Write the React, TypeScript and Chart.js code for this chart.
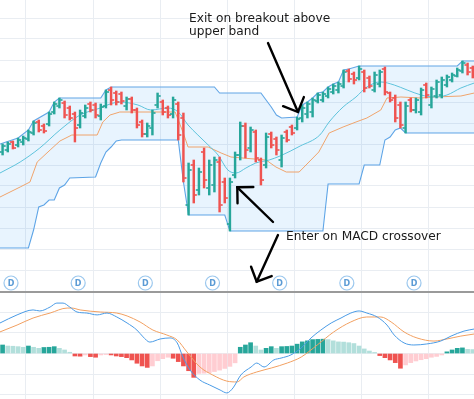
import React, { useEffect, useRef } from 'react';
import { Chart, registerables } from 'chart.js';
Chart.register(...registerables);

// ---------- price panel data (bar index on x) ----------
const openP = [69.5,70.5,74.5,73,74.5,76,79,84.5,82.5,83.5,89.5,92.5,94,91.5,88.5,83,87.5,93.5,93,87.5,92.5,100.5,99,98.5,92.5,96,90.5,84.5,78.5,81.5,93,94.5,91.5,88.5,93.5,86.5,43,63,50.5,69.5,51.5,53,64.5,54.5,33.5,58,68,82.5,71.5,79.5,65.5,63,78.5,76,65.5,79.5,82,81.5,86.5,88.5,89.5,95,95.5,97.5,99.5,100.5,102.5,110,108.5,106.5,109.5,106.5,100.5,103.5,111,99,96.5,93,81.5,95.5,90.5,89.5,103,93,97.5,98,103,105.5,107.5,110,113,111.5];
const highP = [73.5,74.5,75,76.5,77.5,80.5,85,85.5,83.5,89.5,94.5,96.5,95,92.5,89.5,90.5,93,94.5,94,93.5,100.5,102,100,99.5,97,97,91.5,85.5,84,90.5,99,95.5,92.5,97,94.5,89,64,65.5,61.5,71.5,65.5,67,67,56.5,56.5,69.5,84.5,84,82,80.5,66.5,79,79.5,77,78,80.5,83,87,93,94.5,96.5,99,99.5,102,103.5,104.5,110.5,111,109.5,112.5,110.5,107.5,109.5,110.5,112,99.5,98,94.5,94.5,96.5,96.5,101.5,104,102,105.5,107,108,109,111.5,115,114,112.5];
const lowP = [68,69.5,71,72,73,75,78,79.5,79,82.5,88.5,91.5,86.5,85.5,74.5,81.5,86.5,89.5,86.5,85.5,91.5,93,93,93.5,90.5,89,81.5,77,77,78,91.5,88,86.5,86.5,75.5,54.5,38,44,48,51.5,48,49.5,39.5,44,30,56.5,65.5,66.5,69.5,64.5,53,61.5,71.5,68,62,74.5,78,80.5,84.5,86.5,87,94,94.5,96.5,98.5,99,101.5,104.5,103.5,105.5,99.5,101.5,99.5,102,98,94.5,84.5,81.5,79,89.5,89,88,96.5,91.5,96.5,96.5,102,104.5,107,109,108,106.5];
const closeP = [72.5,73.5,71.5,75.5,76.5,79.5,84,80.5,80,88.5,93.5,95.5,88,86.5,81.5,89,91.5,90.5,88,92,99.5,95.5,94.5,95,96,90.5,83,78.5,82.5,89,97.5,89.5,88,95.5,78,56.5,60.5,48,59.5,55.5,63,65.5,43,46.5,54.5,68,82.5,70.5,80.5,66.5,55.5,77,73,70.5,76.5,75.5,79,86,91.5,93.5,95.5,98,98.5,101,102.5,103.5,109.5,106,105.5,111,101.5,102.5,108,109.5,99.5,95.5,86.5,83,92.5,90.5,95.5,100.5,98,101,104.5,105.5,107,108,110.5,114,109.5,108];

// Donchian channel (bar index, price)
const upperX = [-0.5,3,5,6,9,10,11,19,20,21,41,42,50,51,52,53,54,57,58,59,60,61,62,63,64,65,66,67,69,88,89,91.3];
const upperY = [73.5,76.5,80.5,85,89.5,94.5,96.5,96.5,100.5,102,102,99,99,95.5,92,88,86.5,87,93,94.5,96.5,99,99.5,102,103.5,104.5,110.5,111,112.5,112.5,115,115];
const lowerX = [-0.5,5,6,7,8,9,10,11,12,13,18,19,20,21,22,23,34,35,36,43,44,62,63,69,70,73,74,75,76,77,78,91.3];
const lowerY = [21.5,21.5,30.5,42,43,45.5,45.5,51.5,53,56.5,57,64,69.5,72,75,75.5,75.5,54.5,38,38,30,30,53.5,53.5,63,63,75.5,77,80.5,81.5,79,79];

// moving averages
const fastX = [-0.5,3.4,7.2,11.1,15,18.9,20.8,22.7,26.2,28.7,32,34,35.9,37.8,39.8,41.7,43.6,45.2,47.1,49,51.6,53.7,57.6,61.4,63.2,65.9,68.4,70.5,73.2,75.8,78.3,81,83.5,86,88.7,91.3];
const fastY = [59,64.5,71.5,80.5,88,91.5,93.5,94.5,93,90.5,91.5,89.5,83,78,73,68,60.5,59,61.5,64,65.5,67.5,72.5,78,84.5,92,97,102,104.5,103,100.5,98,97,98,101.5,104];
const midX = [-0.5,3.4,5.3,6.7,9.2,11.1,13.4,18.3,19.4,20.8,22.7,33.4,34.9,35.9,39.8,42.3,44.2,51,52.9,54.9,57.4,59.3,61.2,63.2,65.9,68.4,70.5,73.2,74.4,77.1,81,83.5,88.7,91.3];
const midY = [47,52,54.5,64.5,70.5,75,78,78,84.5,88,89.5,89.5,79.5,72,72,69,67,65.5,62,59.5,59.5,64.5,69.5,79,82,84.5,86.5,90.5,96.5,97,96.5,97,97.5,99];

// dividend markers
const dividendX = [1.63,14.63,27.63,40.63,53.63,66.63,79.63];
const dividendLevel = 4;

// ---------- MACD panel data ----------
const macdX = [-0.5,2.8,5.9,7.2,9.2,10.5,11.7,13.0,14.4,16.3,18.3,20.2,22.1,24.1,26,27.2,28.5,30.5,32.4,33.8,34.9,36.3,38.2,40.1,42.1,43.4,44.6,46.1,48.1,49.2,50.6,52.5,53.9,55.8,57.8,59.7,61.6,63.6,65.5,67.4,69,70.5,72.5,74.4,75.8,77.7,79.6,82.1,84.8,86.8,89.3,91.3];
const macdY = [1.47,1.86,2.10,2.05,2.24,2.43,2.43,2.24,2.0,1.95,1.86,1.95,1.76,1.47,1.13,0.80,0.55,0.70,0.75,0.51,-0.17,-0.80,-1.28,-1.52,-1.76,-1.90,-1.66,-1.04,-0.65,-0.46,-0.65,-0.31,-0.22,-0.07,0.27,0.75,1.13,1.47,1.71,1.95,2.05,1.95,1.76,1.37,0.89,0.51,0.41,0.46,0.60,0.84,1.08,1.18];
const signalX = [-0.5,2.8,5.9,9.2,12.5,13.4,15,18.9,22.1,24.1,26.6,29.1,31.8,33.8,35.7,38.2,40.7,43.4,45.4,46.7,49.2,52,55.1,57.8,60.9,64.1,67.4,70.5,73.2,75.2,77.7,80.2,83.5,86,88.7,91.3];
const signalY = [1.04,1.37,1.71,1.95,2.19,2.19,2.10,2.0,1.95,1.81,1.52,1.13,0.89,0.65,0.07,-0.65,-1.04,-1.33,-1.37,-1.13,-0.89,-0.70,-0.46,-0.17,0.41,1.04,1.52,1.76,1.76,1.52,1.04,0.75,0.60,0.70,0.84,0.94];
const histogram = [
  0.41,0.36,0.35,0.33,0.30,0.36,0.30,0.25,0.29,0.30,
  0.33,0.25,0.17,0.06,-0.12,-0.13,-0.07,-0.15,-0.18,-0.07,
  -0.05,-0.07,-0.12,-0.15,-0.20,-0.31,-0.47,-0.60,-0.67,-0.60,
  -0.35,-0.25,-0.18,-0.23,-0.39,-0.60,-0.83,-1.15,-0.96,-0.95,
  -0.92,-0.87,-0.80,-0.72,-0.62,-0.45,0.30,0.41,0.52,0.36,
  0.17,0.25,0.33,0.25,0.33,0.34,0.36,0.45,0.56,0.61,
  0.67,0.68,0.69,0.67,0.61,0.56,0.55,0.52,0.48,0.36,
  0.22,0.12,0.05,-0.10,-0.20,-0.31,-0.44,-0.71,-0.55,-0.44,
  -0.36,-0.30,-0.25,-0.18,-0.14,-0.07,0.08,0.17,0.25,0.27,
  0.20,0.19
];

// annotation arrows (bar index, price): tail -> tip
const arrowTailX = [51.37, 52.34, 53.3];
const arrowTailY = [124, 34.5, 28];
const arrowTipX = [57.17, 45.43, 49.18];
const arrowTipY = [89.5, 51.85, 4.65];

// grid positions
const gridX = [4.53, 17.53, 30.53, 43.53, 56.53, 69.53, 82.53];
const gridPrice = [10.5,21,31.5,42,52.5,63,73.5,84,94.5,105,115.5,126,136.5];
const gridMacd = [-2,-1,0,1,2];

const X_MIN = -0.5;
const X_MAX = 91.24;
const UP = '#26a69a';
const DOWN = '#ef5350';
const GRID = '#e9edf2';

const pts = (xs: number[], ys: number[]) => xs.map((x, i) => ({ x, y: ys[i] }));

function xScale() {
  return {
    type: 'linear', min: X_MIN, max: X_MAX, offset: false,
    grid: { color: GRID, offset: false, drawTicks: false },
    border: { display: false },
    ticks: { display: false },
    afterBuildTicks: (s: any) => { s.ticks = gridX.map(v => ({ value: v })); },
  };
}

const ohlcTicks = {
  id: 'ohlcTicks',
  afterDatasetsDraw(chart: any) {
    const { ctx, scales } = chart;
    const x = scales.x, y = scales.y;
    ctx.save();
    for (let i = 0; i < openP.length; i++) {
      const px = x.getPixelForValue(i);
      ctx.fillStyle = closeP[i] >= openP[i] ? UP : DOWN;
      const yo = y.getPixelForValue(openP[i]);
      const yc = y.getPixelForValue(closeP[i]);
      ctx.fillRect(px - 3.1, yo - 0.8, 2.3, 1.6);
      ctx.fillRect(px + 0.8, yc - 0.8, 2.3, 1.6);
    }
    ctx.restore();
  },
};

const annotations = {
  id: 'annotations',
  afterDraw(chart: any) {
    const { ctx, scales } = chart;
    const x = scales.x, y = scales.y;
    ctx.save();
    // dividend letters
    ctx.fillStyle = '#5b9bd5';
    ctx.font = 'bold 8px "DejaVu Sans"';
    ctx.textAlign = 'center';
    ctx.textBaseline = 'middle';
    dividendX.forEach(d => {
      ctx.fillText('D', x.getPixelForValue(d), y.getPixelForValue(dividendLevel) + 0.5);
    });
    // arrows
    ctx.strokeStyle = '#000';
    ctx.lineWidth = 2.4;
    ctx.lineCap = 'round';
    ctx.lineJoin = 'miter';
    for (let i = 0; i < arrowTipX.length; i++) {
      const tx = x.getPixelForValue(arrowTipX[i]);
      const ty = y.getPixelForValue(arrowTipY[i]);
      const sx = x.getPixelForValue(arrowTailX[i]);
      const sy = y.getPixelForValue(arrowTailY[i]);
      ctx.beginPath();
      ctx.moveTo(sx, sy);
      ctx.lineTo(tx, ty);
      ctx.stroke();
      const back = Math.atan2(sy - ty, sx - tx);
      const L = 16, a = Math.PI / 4;
      ctx.beginPath();
      ctx.moveTo(tx + L * Math.cos(back - a), ty + L * Math.sin(back - a));
      ctx.lineTo(tx, ty);
      ctx.lineTo(tx + L * Math.cos(back + a), ty + L * Math.sin(back + a));
      ctx.stroke();
    }
    ctx.restore();
  },
};

function histColors() {
  return histogram.map((v, i) => {
    const prev = i > 0 ? histogram[i - 1] : v;
    if (v >= 0) return v >= prev ? '#26a69a' : '#b2dfdb';
    return v <= prev ? '#ef5350' : '#ffcdd2';
  });
}

export default function App() {
  const topRef = useRef<HTMLCanvasElement>(null);
  const botRef = useRef<HTMLCanvasElement>(null);

  useEffect(() => {
    document.body.style.margin = '0';
    const common = {
      responsive: false,
      animation: false,
      events: [],
      layout: { padding: 0, autoPadding: false },
      plugins: { legend: { display: false }, tooltip: { enabled: false } },
    };
    const top = new Chart(topRef.current as HTMLCanvasElement, {
      type: 'line',
      data: {
        datasets: [
          {
            type: 'bar',
            data: openP.map((_, i) => ({ x: i, y: [lowP[i], highP[i]] })),
            backgroundColor: openP.map((o, i) => (closeP[i] >= o ? UP : DOWN)),
            barThickness: 1.8,
            borderWidth: 0,
            order: 0,
          } as any,
          {
            data: pts(fastX, fastY), borderColor: '#5ec3dc', borderWidth: 1,
            pointRadius: 0, fill: false, cubicInterpolationMode: 'monotone', order: 1,
          },
          {
            data: pts(midX, midY), borderColor: '#f0a46c', borderWidth: 1,
            pointRadius: 0, fill: false, order: 1,
          },
          {
            data: pts(upperX, upperY), borderColor: '#62a6e6', borderWidth: 1.1,
            pointRadius: 0, fill: '+1', backgroundColor: 'rgba(33,150,243,0.1)', order: 2,
          },
          {
            data: pts(lowerX, lowerY), borderColor: '#62a6e6', borderWidth: 1.1,
            pointRadius: 0, fill: false, order: 2,
          },
          {
            data: dividendX.map(d => ({ x: d, y: dividendLevel })), showLine: false,
            pointRadius: 7, pointBackgroundColor: '#ffffff', pointBorderColor: '#9cc8ee',
            pointBorderWidth: 1.2, order: 0, clip: false,
          } as any,
        ],
      },
      options: {
        ...common,
        scales: {
          x: xScale(),
          y: {
            type: 'linear', min: 0, max: 145.5,
            grid: { color: GRID, drawTicks: false },
            border: { display: false },
            ticks: { display: false },
            afterBuildTicks: (s: any) => { s.ticks = gridPrice.map(v => ({ value: v })); },
          },
        },
      } as any,
      plugins: [ohlcTicks, annotations],
    });

    const bot = new Chart(botRef.current as HTMLCanvasElement, {
      type: 'line',
      data: {
        datasets: [
          {
            data: pts(macdX, macdY), borderColor: '#4a9be6', borderWidth: 1,
            pointRadius: 0, fill: false, cubicInterpolationMode: 'monotone', order: 0,
          },
          {
            data: pts(signalX, signalY), borderColor: '#f2a061', borderWidth: 1,
            pointRadius: 0, fill: false, cubicInterpolationMode: 'monotone', order: 0,
          },
          {
            type: 'bar',
            data: histogram.map((v, i) => ({ x: i, y: v })),
            backgroundColor: histColors(),
            barThickness: 4,
            borderWidth: 0,
            order: 1,
          } as any,
        ],
      },
      options: {
        ...common,
        scales: {
          x: xScale(),
          y: {
            type: 'linear', min: -2.1928, max: 2.9157,
            grid: { color: GRID, drawTicks: false },
            border: { display: false },
            ticks: { display: false },
            afterBuildTicks: (s: any) => { s.ticks = gridMacd.map(v => ({ value: v })); },
          },
        },
      } as any,
    });

    return () => { top.destroy(); bot.destroy(); };
  }, []);

  const textStyle: React.CSSProperties = {
    position: 'absolute',
    fontFamily: '"DejaVu Sans", sans-serif',
    fontSize: '12.2px',
    lineHeight: '13px',
    color: '#1a1a1a',
    whiteSpace: 'nowrap',
  };

  return (
    <div style={{ position: 'fixed', left: 0, top: 0, width: 474, height: 399, background: '#ffffff', overflow: 'hidden' }}>
      <canvas ref={topRef} width={474} height={291} style={{ position: 'absolute', left: 0, top: 0, width: 474, height: 291 }} />
      <div style={{ position: 'absolute', left: 0, top: 291, width: 474, height: 2, background: '#9a9a9a' }} />
      <canvas ref={botRef} width={474} height={106} style={{ position: 'absolute', left: 0, top: 293, width: 474, height: 106 }} />
      <div style={{ ...textStyle, left: 189, top: 12 }}>Exit on breakout above<br />upper band</div>
      <div style={{ ...textStyle, left: 286, top: 230 }}>Enter on MACD crossover</div>
    </div>
  );
}
